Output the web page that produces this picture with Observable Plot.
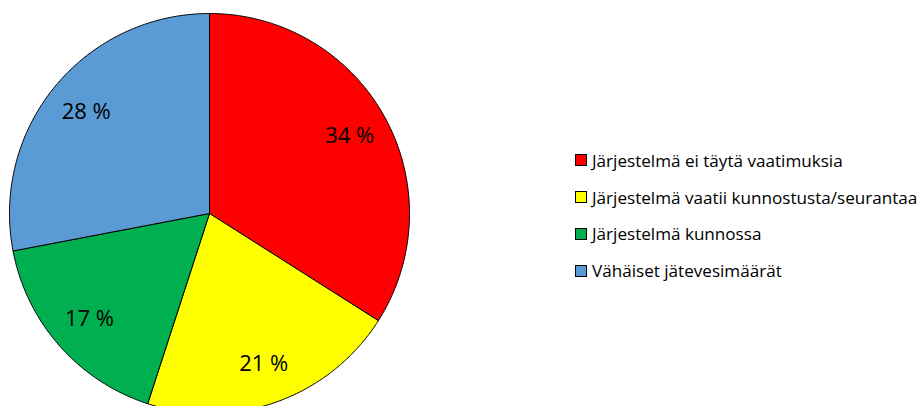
<!DOCTYPE html>
<html>
<head>
<meta charset="utf-8">
<script src="https://cdn.jsdelivr.net/npm/d3@7"></script>
<script src="https://cdn.jsdelivr.net/npm/@observablehq/plot@0.6"></script>
<style>
  html, body { margin: 0; padding: 0; background: #fff; }
  #wrap { position: relative; width: 919px; height: 406px; overflow: hidden; }
  #legend { position: absolute; left: 575px; top: 142px; font-family: "Open Sans", sans-serif; font-size: 17.1px; color: #000; white-space: nowrap; }
  .row { display: flex; align-items: center; height: 36.8px; }
  .sw { width: 10px; height: 10px; border: 1px solid #000; margin-right: 5px; flex: none; }
</style>
</head>
<body>
<div id="wrap"></div>
<script>
const categories = [
  "Järjestelmä ei täytä vaatimuksia",
  "Järjestelmä vaatii kunnostusta/seurantaa",
  "Järjestelmä kunnossa",
  "Vähäiset jätevesimäärät"
];
const values = [34, 21, 17, 28];
const colors = ["#ff0000", "#ffff00", "#00b050", "#5b9bd5"];
const labels = ["34 %", "21 %", "17 %", "28 %"];

const arcs = d3.pie().sort(null).value(d => d)(values);
const slicePts = [];
arcs.forEach((a, i) => {
  slicePts.push({cat: categories[i], x: 0, y: 0});
  const n = Math.max(2, Math.ceil((a.endAngle - a.startAngle) * 120));
  for (let k = 0; k <= n; k++) {
    const t = a.startAngle + (a.endAngle - a.startAngle) * k / n;
    slicePts.push({cat: categories[i], x: Math.sin(t), y: Math.cos(t)});
  }
  slicePts.push({cat: categories[i], x: 0, y: 0});
});
const labelPts = arcs.map((a, i) => {
  const t = (a.startAngle + a.endAngle) / 2;
  return {label: labels[i], x: 0.8 * Math.sin(t), y: 0.8 * Math.cos(t)};
});

const chart = Plot.plot({
  width: 919,
  height: 406,
  margin: 0,
  x: {domain: [-1, 1], range: [9, 409], axis: null},
  y: {domain: [-1, 1], range: [413, 13], axis: null},
  color: {domain: categories, range: colors},
  style: {background: "#fff"},
  marks: [
    Plot.line(slicePts, {x: "x", y: "y", z: "cat", fill: "cat", stroke: "#000", strokeWidth: 1, curve: "linear"}),
    Plot.text(labelPts, {x: "x", y: "y", text: "label", fontSize: 22, fill: "#000", fontFamily: "Open Sans, sans-serif"})
  ]
});
document.getElementById("wrap").appendChild(chart);

const legend = document.createElement("div");
legend.id = "legend";
categories.forEach((c, i) => {
  const row = document.createElement("div");
  row.className = "row";
  const sw = document.createElement("span");
  sw.className = "sw";
  sw.style.background = colors[i];
  const tx = document.createElement("span");
  tx.textContent = c;
  row.appendChild(sw);
  row.appendChild(tx);
  legend.appendChild(row);
});
document.getElementById("wrap").appendChild(legend);
</script>
</body>
</html>
